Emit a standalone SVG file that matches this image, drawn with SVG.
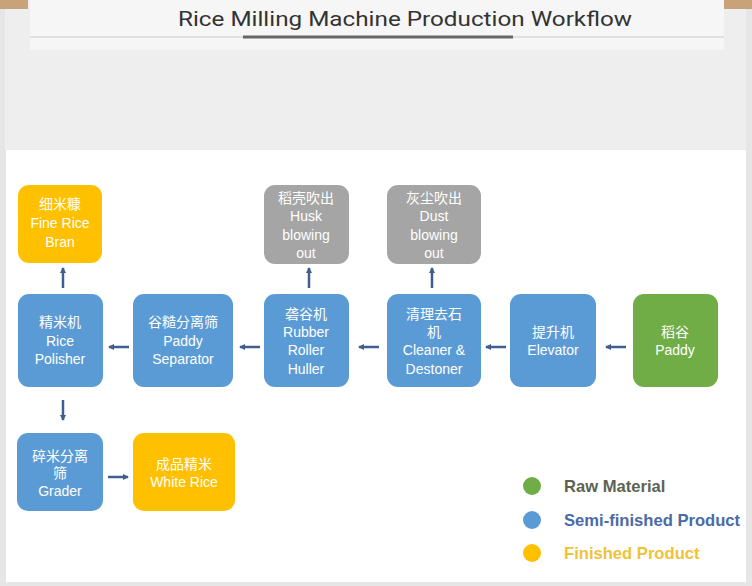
<svg xmlns="http://www.w3.org/2000/svg" width="752" height="586" viewBox="0 0 752 586">
<defs>
<style>
.blue{fill:#5b9bd5}
.green{fill:#70ad47}
.yellow{fill:#ffc000}
.gray{fill:#a5a5a5}
.t{font-family:"Liberation Sans","Noto Sans CJK SC",sans-serif;font-size:14px;fill:#ffffff;text-anchor:middle}
.conn line{stroke:#3f5d8f;stroke-width:2.5;marker-end:url(#ah)}
.leg{font-family:"Liberation Sans",sans-serif;font-size:16.6px;font-weight:bold}
</style>
<marker id="ah" markerUnits="userSpaceOnUse" markerWidth="8" markerHeight="8" refX="5" refY="4" orient="auto">
<path d="M0,1 L6,4 L0,7 Z" fill="#3f5d8f"/>
</marker>
</defs>
<rect x="0" y="0" width="752" height="586" fill="#e6e6e6"/>
<rect x="5" y="0" width="741" height="150" fill="#eeeeee"/>
<rect x="0" y="0" width="28" height="9" fill="#c8a37a"/>
<rect x="724" y="0" width="28" height="9" fill="#c8a37a"/>
<rect x="30" y="0" width="694" height="50" fill="#f6f6f6"/>
<line x1="30" y1="37" x2="724" y2="37" stroke="#cccccc" stroke-width="1.2"/>
<line x1="243" y1="37" x2="513" y2="37" stroke="#666666" stroke-width="3"/>
<text x="405" y="26" font-family="Roboto,'Liberation Sans',sans-serif" font-size="21" fill="#333333" text-anchor="middle" textLength="454" lengthAdjust="spacingAndGlyphs">Rice Milling Machine Production Workflow</text>
<rect x="6" y="150" width="740" height="432" fill="#ffffff"/>

<g id="bran"><rect class="yellow" x="18" y="185" width="84" height="78" rx="11"/>
<text class="t" x="60" y="209">细米糠</text><text class="t" x="60" y="228">Fine Rice</text><text class="t" x="60" y="247">Bran</text></g>
<g id="husk"><rect class="gray" x="264" y="185" width="85" height="79" rx="11"/>
<text class="t" x="306" y="203">稻壳吹出</text><text class="t" x="306" y="221">Husk</text><text class="t" x="306" y="240">blowing</text><text class="t" x="306" y="258">out</text></g>
<g id="dust"><rect class="gray" x="387" y="185" width="94" height="79" rx="11"/>
<text class="t" x="434" y="203">灰尘吹出</text><text class="t" x="434" y="221">Dust</text><text class="t" x="434" y="240">blowing</text><text class="t" x="434" y="258">out</text></g>
<g id="polisher"><rect class="blue" x="18" y="294" width="85" height="93" rx="11"/>
<text class="t" x="60" y="327">精米机</text><text class="t" x="60" y="346">Rice</text><text class="t" x="60" y="364">Polisher</text></g>
<g id="separator"><rect class="blue" x="133" y="294" width="100" height="93" rx="11"/>
<text class="t" x="183" y="327">谷糙分离筛</text><text class="t" x="183" y="346">Paddy</text><text class="t" x="183" y="364">Separator</text></g>
<g id="huller"><rect class="blue" x="264" y="294" width="85" height="93" rx="11"/>
<text class="t" x="306" y="319">砻谷机</text><text class="t" x="306" y="337">Rubber</text><text class="t" x="306" y="355">Roller</text><text class="t" x="306" y="374">Huller</text></g>
<g id="cleaner"><rect class="blue" x="387" y="294" width="94" height="93" rx="11"/>
<text class="t" x="434" y="319">清理去石</text><text class="t" x="434" y="337">机</text><text class="t" x="434" y="355">Cleaner &amp;</text><text class="t" x="434" y="374">Destoner</text></g>
<g id="elevator"><rect class="blue" x="510" y="294" width="86" height="93" rx="11"/>
<text class="t" x="553" y="337">提升机</text><text class="t" x="553" y="355">Elevator</text></g>
<g id="paddy"><rect class="green" x="633" y="294" width="85" height="93" rx="11"/>
<text class="t" x="675" y="337">稻谷</text><text class="t" x="675" y="355">Paddy</text></g>
<g id="grader"><rect class="blue" x="17" y="433" width="86" height="78" rx="11"/>
<text class="t" x="60" y="461">碎米分离</text><text class="t" x="60" y="478">筛</text><text class="t" x="60" y="496">Grader</text></g>
<g id="whiterice"><rect class="yellow" x="133" y="433" width="102" height="78" rx="11"/>
<text class="t" x="184" y="469">成品精米</text><text class="t" x="184" y="487">White Rice</text></g>

<g id="connectors" class="conn">
<line x1="63" y1="288" x2="63" y2="268"/>
<line x1="129" y1="347" x2="109" y2="347"/>
<line x1="260" y1="347" x2="240" y2="347"/>
<line x1="309" y1="288" x2="309" y2="268"/>
<line x1="379" y1="347" x2="359" y2="347"/>
<line x1="432" y1="288" x2="432" y2="268"/>
<line x1="506" y1="347" x2="486" y2="347"/>
<line x1="626" y1="347" x2="606" y2="347"/>
<line x1="63" y1="400" x2="63" y2="420"/>
<line x1="108" y1="477" x2="128" y2="477"/>
</g>

<g id="legend">
<circle cx="532" cy="486" r="9" class="green"/>
<circle cx="532" cy="520" r="9" class="blue"/>
<circle cx="532" cy="553" r="9" class="yellow"/>
<text class="leg" x="564" y="492" fill="#5d6352">Raw Material</text>
<text class="leg" x="564" y="526" fill="#4a6aa8">Semi-finished Product</text>
<text class="leg" x="564" y="559" fill="#f0c23a">Finished Product</text>
</g>
</svg>
